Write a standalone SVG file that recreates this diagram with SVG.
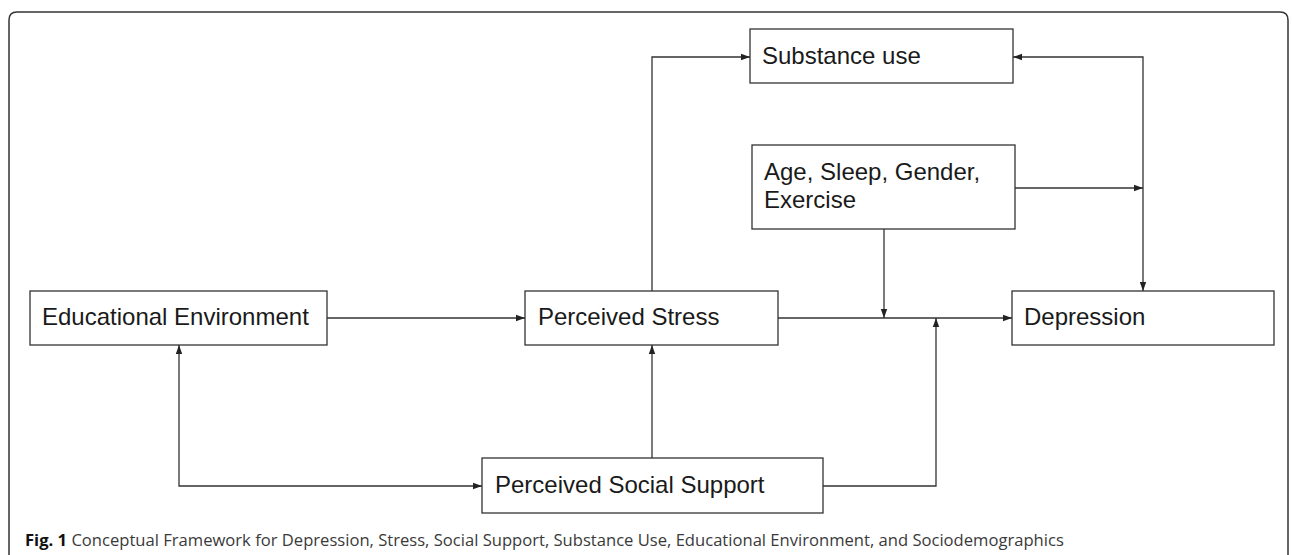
<svg xmlns="http://www.w3.org/2000/svg" width="1292" height="555" viewBox="0 0 1292 555">
<style>
.box{fill:#fff;stroke:#333;stroke-width:1.3}
.lbl{font-family:"Liberation Sans",Arial,sans-serif;font-size:24px;fill:#1a1a1a}
.con{fill:none;stroke:#333;stroke-width:1.3}
.cap{font-family:"Open Sans","Noto Sans",sans-serif;font-size:16.6px;fill:#3a3a3a}
</style>
<defs>
<marker id="ah" markerUnits="userSpaceOnUse" markerWidth="10" markerHeight="8" refX="9" refY="4" orient="auto-start-reverse">
<path d="M0,0.8 L9,4 L0,7.2 Z" fill="#222"/>
</marker>
</defs>
<rect width="1292" height="555" fill="#fff"/>
<path d="M9,555 V20 Q9,12 17,12 H1280 Q1288,12 1288,20 V555" fill="none" stroke="#333" stroke-width="1.5"/>
<g id="connectors">
<path class="con" d="M327,318 H525" marker-end="url(#ah)"/>
<path class="con" d="M652,291 V57 H750" marker-end="url(#ah)"/>
<path class="con" d="M1013,57 H1143 V291" marker-start="url(#ah)" marker-end="url(#ah)"/>
<path class="con" d="M1015,188 H1143" marker-end="url(#ah)"/>
<path class="con" d="M884,229 V318" marker-end="url(#ah)"/>
<path class="con" d="M778,318 H1012" stroke-width="2" marker-end="url(#ah)"/>
<path class="con" d="M823,486 H936 V318" marker-end="url(#ah)"/>
<path class="con" d="M652,458 V345" marker-end="url(#ah)"/>
<path class="con" d="M179,345 V486 H482" marker-start="url(#ah)" marker-end="url(#ah)"/>
</g>
<g id="substance"><rect class="box" x="750" y="29" width="263" height="54"/><text class="lbl" x="762" y="64">Substance use</text></g>
<g id="sociodemo"><rect class="box" x="752" y="145" width="263" height="84"/><text class="lbl" x="764" y="180">Age, Sleep, Gender,</text><text class="lbl" x="764" y="208">Exercise</text></g>
<g id="education"><rect class="box" x="30" y="291" width="297" height="54"/><text class="lbl" x="42" y="325">Educational Environment</text></g>
<g id="stress"><rect class="box" x="525" y="291" width="253" height="54"/><text class="lbl" x="538" y="325">Perceived Stress</text></g>
<g id="depression"><rect class="box" x="1012" y="291" width="262" height="54"/><text class="lbl" x="1024" y="325">Depression</text></g>
<g id="support"><rect class="box" x="482" y="458" width="341" height="55"/><text class="lbl" x="495" y="493">Perceived Social Support</text></g>
<text class="cap" x="25" y="546"><tspan font-weight="bold" fill="#111">Fig. 1</tspan> Conceptual Framework for Depression, Stress, Social Support, Substance Use, Educational Environment, and Sociodemographics</text>
</svg>
